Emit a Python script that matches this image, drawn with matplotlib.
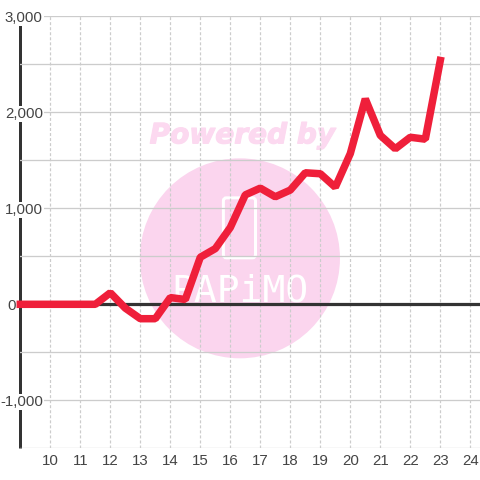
import matplotlib
matplotlib.use('Agg')
import matplotlib.pyplot as plt
from matplotlib import patches, patheffects

plt.rcParams['font.family'] = ['Liberation Sans', 'DejaVu Sans']

# half year steps
years = [9, 9.5, 10, 10.5, 11, 11.5, 12, 12.5, 13, 13.5, 14, 14.5, 15, 15.5, 16,
         16.5, 17, 17.5, 18, 18.5, 19, 19.5, 20, 20.5, 21, 21.5, 22, 22.5, 23]
values = [0, 0, 0, 0, 0, 0, 120, -40, -150, -150, 70, 50, 490, 580, 800,
          1140, 1210, 1120, 1190, 1370, 1360, 1220, 1570, 2140, 1760, 1620, 1740, 1720, 2540]

x_ticks = list(range(10, 25))
y_major = [-1000, 0, 1000, 2000, 3000]
y_minor = [-1500, -500, 500, 1500, 2500]
y_labels = ['-1,000', '0', '1,000', '2,000', '3,000']

text_col = '#444444'
grid_col = '#cccccc'
px = 72 / 100.0  # points per pixel

fig = plt.figure(figsize=(4.8, 4.8), dpi=100)
# the .3 offsets keep the grid on the same pixel rows as the reference after snapping
ax = fig.add_axes([20.3 / 480, 31.7 / 480, 459.7 / 480, 432 / 480])
ax.set_xlim(9, 9 + 459.7 / 30)
ax.set_ylim(-1500, 3000)

# watermark goes under the grid
ax.add_patch(patches.Ellipse((16.32, 479), 6.67, 2083, fc='#fbd5ee', ec='none', zorder=0.1))
ax.add_patch(patches.FancyBboxPatch((15.77, 484), 1.07, 625,
                                    boxstyle='round,pad=0,rounding_size=0.1',
                                    mutation_aspect=1000 / 96 * 30,
                                    fc='none', ec='white', lw=3 * px, zorder=0.2))
ax.text(16.32, 135, 'PAPiMO', color='white', fontsize=38 * px, family='DejaVu Sans Mono',
        ha='center', va='center', zorder=0.2)
ax.text(16.4, 1760, 'Powered by', color='#fcd9f0', fontsize=28 * px, family='DejaVu Sans',
        weight='bold', style='italic', ha='center', va='center', zorder=0.2,
        path_effects=[patheffects.withStroke(linewidth=1.2 * px, foreground='#fcd9f0')])

ax.set_xticks(x_ticks)
ax.set_yticks(y_major)
ax.set_yticklabels(y_labels)
ax.set_yticks(y_minor, minor=True)
ax.grid(True, axis='y', which='both', color=grid_col, lw=1.3 * px)
ax.grid(True, axis='x', color=grid_col, lw=1.2 * px, ls=(0, (2.5, 1.7)))
ax.set_axisbelow(True)
ax.tick_params(axis='both', which='both', length=0, labelsize=15 * px, labelcolor=text_col)
ax.tick_params(axis='x', pad=5.5 * px)

for spine in ['top', 'right', 'bottom']:
    ax.spines[spine].set_visible(False)
ax.spines['left'].set_linewidth(3 * px)
ax.spines['left'].set_color('#333333')
ax.spines['left'].set_zorder(0.4)
ax.spines['left'].set_capstyle('butt')

# labels sit on top of the axis line with a white box, 0 stays left of it
for tick, lab in zip(ax.yaxis.get_major_ticks(), y_labels):
    if lab == '0':
        tick.set_pad(4 * px)
    else:
        tick.set_pad(-22.5 * px)
        tick.label1.set_bbox(dict(fc='white', ec='none', pad=0.5))

ax.axhline(0, color='#333333', lw=3.2 * px, zorder=2, clip_on=False)
ax.plot(years, values, color='#ef1f3a', lw=7.5 * px, solid_joinstyle='bevel',
        solid_capstyle='projecting', zorder=3, clip_on=False)

fig.savefig('out.png', dpi=100)
